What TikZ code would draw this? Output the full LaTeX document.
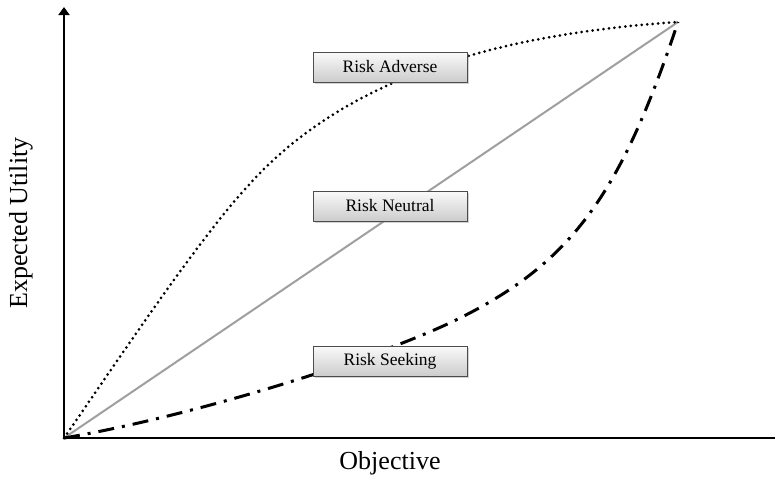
\documentclass[tikz,border=0pt]{standalone}
\usepackage{fontspec}
\setmainfont{Liberation Serif}
\usetikzlibrary{arrows.meta,shadows}
\begin{document}
\begin{tikzpicture}[x=1pt,y=-1pt,
  axis/.style={line width=2pt,black},
  label box/.style={draw=black!70,line width=0.6pt,top color=gray!4,bottom color=gray!40,
    minimum width=154pt,minimum height=30pt,inner sep=0pt,
    font=\fontsize{17.5}{20}\selectfont,
    drop shadow={shadow xshift=1.5pt,shadow yshift=-1.5pt,opacity=0.35}},
  axis label/.style={font=\fontsize{26}{30}\selectfont},
  adverse/.style={line width=3pt,line cap=round,dash pattern=on 0pt off 5.5pt},
  seeking/.style={line width=3pt,dash pattern=on 16pt off 8pt on 3pt off 8pt},
  neutral/.style={line width=2pt,gray!75}]
\useasboundingbox (0,0) rectangle (775,479);

% origin and common end point of the three curves
\coordinate (O) at (64,438);
\coordinate (E) at (678,22);
\coordinate (ytip) at (64,7);
\coordinate (xend) at (775,438);
\coordinate (A) at (247,187);
\coordinate (S) at (460,318);

% straight neutral line
\draw[neutral] (O) -- (E);

% concave curve
\draw[adverse] (O) .. controls (114,366) and (197,241) .. (A)
                   .. controls (345,76) and (500,34) .. (E);

% convex curve
\draw[seeking] (O) .. controls (194,416) and (380,358) .. (S)
                   .. controls (573,261.5) and (621,193) .. (E);

% axes
\draw[axis] (O) -- (xend);
\draw[axis,-{Triangle[width=11pt,length=8pt]}] (O) -- (ytip);

% labels
\node[label box] (adv) at (390,67) {Risk Adverse};
\node[label box] (neu) at (390,206) {Risk Neutral};
\node[label box] (see) at (390,361) {Risk Seeking};

\node[axis label] (xl) at (390,463) {Objective};
\node[axis label,rotate=90] (yl) at (21,223) {Expected Utility};
\end{tikzpicture}
\end{document}
